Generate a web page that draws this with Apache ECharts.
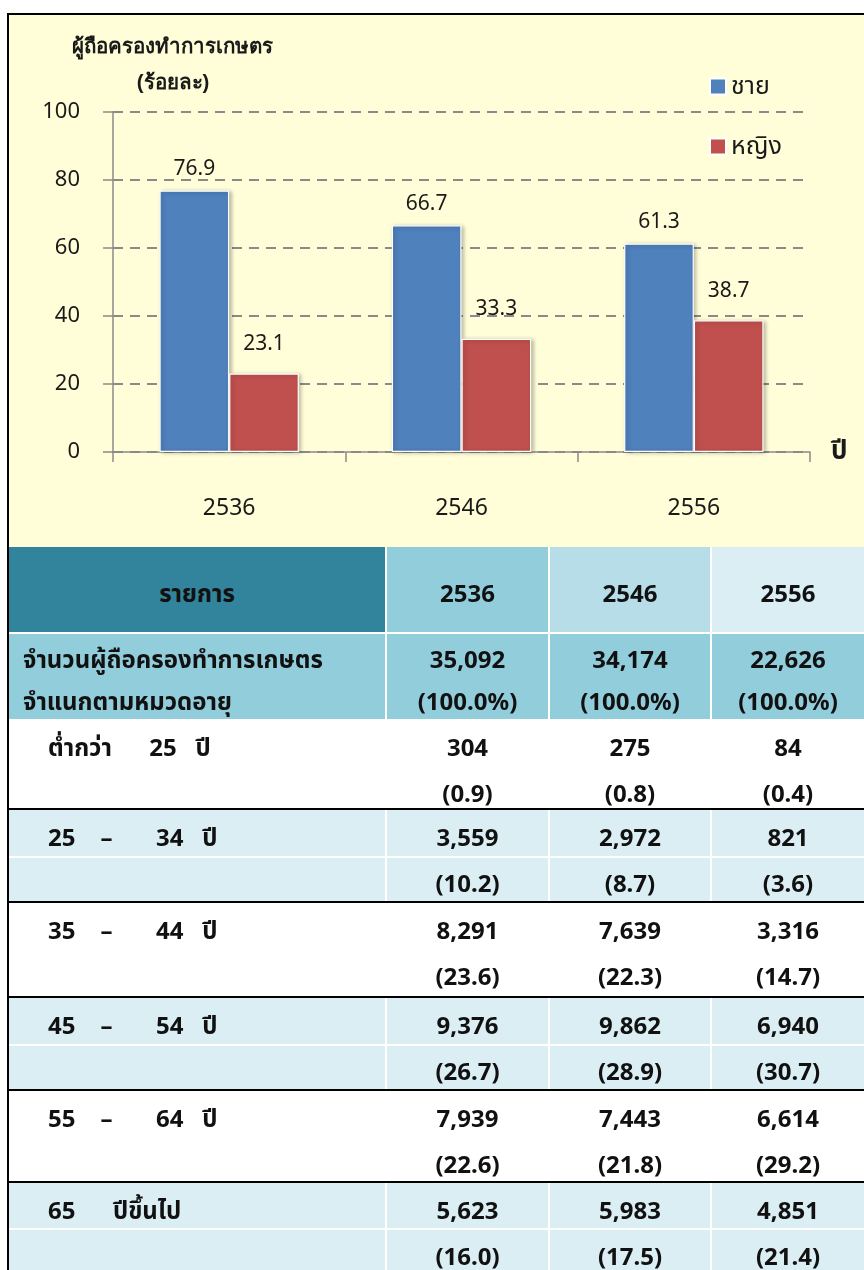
<!DOCTYPE html>
<html>
<head>
<meta charset="utf-8">
<script src="https://cdn.jsdelivr.net/npm/echarts@6/dist/echarts.min.js"></script>
<style>
  body { margin: 0; width: 864px; height: 1270px; position: relative; background: #fff; overflow: hidden;
         font-family: "Noto Sans", "Noto Sans Thai", Tahoma, sans-serif; }
  #frame { position: absolute; left: 7px; top: 13px; width: 857px; height: 1257px; box-sizing: border-box;
           border-left: 2px solid #000; border-top: 2px solid #000; z-index: 5; pointer-events: none; }
  #chartBg { position: absolute; left: 9px; top: 15px; width: 855px; height: 532px; background: #FFFED8; }
  #chart { position: absolute; left: 0; top: 0; width: 864px; height: 547px; }
  #tbl { position: absolute; left: 9px; top: 0; width: 855px; height: 1270px; }
  .c { position: absolute; color: #111; font-size: 24px; font-weight: bold; white-space: pre; }
  .t { position: absolute; left: 0; right: 0; text-align: center; transform: translateY(-50%); line-height: 1; }
  .l { text-align: left; }
</style>
</head>
<body>
<div id="chartBg"></div>
<div id="chart"></div>
<div id="tbl"></div>
<div id="frame"></div>
<script>
// ข้อมูลกราฟ (ร้อยละ)
var years = ['2536', '2546', '2556'];
var seriesNames = ['ชาย', 'หญิง'];
var malePct = [76.9, 66.7, 61.3];
var femalePct = [23.1, 33.3, 38.7];
var titleLines = ['ผู้ถือครองทำการเกษตร', '(ร้อยละ)'];
var xName = 'ปี';

// ข้อมูลตาราง
var headFirst = 'รายการ';
var totalLabel = ['จำนวนผู้ถือครองทำการเกษตร', 'จำแนกตามหมวดอายุ'];
var totals = [35092, 34174, 22626];
var totalPct = [100, 100, 100];
var ageLabels = ['ต่ำกว่า      25   ปี', '25    –       34   ปี', '35    –       44   ปี',
                 '45    –       54   ปี', '55    –       64   ปี', '65      ปีขึ้นไป'];
var ageCounts = [[304, 275, 84], [3559, 2972, 821], [8291, 7639, 3316],
                 [9376, 9862, 6940], [7939, 7443, 6614], [5623, 5983, 4851]];
var agePct = [[0.9, 0.8, 0.4], [10.2, 8.7, 3.6], [23.6, 22.3, 14.7],
              [26.7, 28.9, 30.7], [22.6, 21.8, 29.2], [16.0, 17.5, 21.4]];

var textColor = '#1a1a1a';
var axisGray = '#8a8a8a';

var chart = echarts.init(document.getElementById('chart'));
var barStyle = function (c) {
    return {
        color: c, borderColor: '#fff', borderWidth: 1.2,
        shadowColor: 'rgba(0,0,0,0.28)', shadowBlur: 4, shadowOffsetX: 2, shadowOffsetY: 1
    };
};
chart.setOption({
    backgroundColor: 'transparent',
    animation: false,
    textStyle: {fontFamily: '"Noto Sans", "Noto Sans Thai", Tahoma, sans-serif'},
    graphic: [
        {type: 'text', x: 172, y: 47, style: {text: titleLines[0], fontSize: 20.5, fontWeight: 'bold', fill: textColor, align: 'center', verticalAlign: 'middle'}},
        {type: 'text', x: 173, y: 83, style: {text: titleLines[1], fontSize: 20.5, fontWeight: 'bold', fill: textColor, align: 'center', verticalAlign: 'middle'}}
    ],
    legend: {
        orient: 'vertical', left: 709, top: 74, padding: 0,
        itemWidth: 16, itemHeight: 16, itemGap: 35, itemTextGap: 10,
        icon: 'rect',
        textStyle: {fontSize: 25, color: textColor},
        data: seriesNames
    },
    grid: {left: 113, top: 112, width: 697, height: 340},
    xAxis: {
        type: 'category', data: years,
        name: xName, nameLocation: 'end', nameGap: 21,
        nameTextStyle: {fontSize: 26, fontWeight: 'bold', color: textColor, verticalAlign: 'middle'},
        axisLine: {lineStyle: {color: axisGray, width: 1.5}},
        axisTick: {show: true, length: 10, lineStyle: {color: axisGray, width: 1.5}},
        axisLabel: {fontSize: 23, color: textColor, margin: 45}
    },
    yAxis: {
        type: 'value', min: 0, max: 100, interval: 20,
        axisLine: {show: true, lineStyle: {color: axisGray, width: 1.5}},
        axisTick: {show: true, length: 10, lineStyle: {color: axisGray, width: 1.5}},
        axisLabel: {fontSize: 22, color: textColor, margin: 33},
        splitLine: {lineStyle: {color: axisGray, width: 2, type: [10, 7]}}
    },
    series: [
        {
            name: seriesNames[0], type: 'bar', data: malePct,
            barGap: '0%', barCategoryGap: '40%',
            itemStyle: barStyle('#4F81BD'),
            label: {show: true, position: 'top', distance: 11, fontSize: 21, color: textColor}
        },
        {
            name: seriesNames[1], type: 'bar', data: femalePct,
            itemStyle: barStyle('#C0504D'),
            label: {show: true, position: 'top', distance: 19, fontSize: 21, color: textColor}
        }
    ]
});

// ตาราง
var tbl = document.getElementById('tbl');
var colX = [0, 378, 541, 703];
var colW = [376, 161, 160, 152];
var fmtN = function (v) { return v.toLocaleString('en-US'); };
var fmtP = function (v) { return '(' + v.toFixed(1) + ')'; };

function box(x, y, w, h, bg) {
    var d = document.createElement('div');
    d.className = 'c';
    d.style.left = x + 'px'; d.style.top = y + 'px';
    d.style.width = w + 'px'; d.style.height = h + 'px';
    d.style.background = bg;
    tbl.appendChild(d);
    return d;
}
function txt(parent, s, cy, left) {
    var t = document.createElement('div');
    t.className = 't' + (left != null ? ' l' : '');
    if (left != null) t.style.paddingLeft = left + 'px';
    t.style.top = cy + 'px';
    t.textContent = s;
    parent.appendChild(t);
}

// หัวตาราง
var headBg = ['#31849B', '#92CDDC', '#B7DEE8', '#DAEEF3'];
for (var i = 0; i < 4; i++) {
    var hd = box(colX[i], 547, colW[i], 85, headBg[i]);
    txt(hd, i === 0 ? headFirst : years[i - 1], 46);
}
// แถวรวม
for (var i = 0; i < 4; i++) {
    var rb = box(colX[i], 634, colW[i], 85, '#92CDDC');
    if (i === 0) {
        txt(rb, totalLabel[0], 25, 14);
        txt(rb, totalLabel[1], 67, 14);
    } else {
        txt(rb, fmtN(totals[i - 1]), 25);
        txt(rb, '(' + totalPct[i - 1].toFixed(1) + '%)', 67);
    }
}
// กลุ่มอายุ
var groupTop = [720, 810, 903, 998, 1091, 1183, 1275];
for (var g = 0; g < ageLabels.length; g++) {
    var gTop = groupTop[g], gH = groupTop[g + 1] - gTop;
    var blue = g % 2 === 1;
    var bg = blue ? '#DAEEF3' : '#fff';
    var half = Math.round(gH / 2);
    for (var i = 0; i < 4; i++) {
        var a = box(colX[i], gTop, colW[i], half - 1, bg);
        var b = box(colX[i], gTop + half + 1, colW[i], gH - half - 3, bg);
        if (i === 0) {
            txt(a, ageLabels[g], 27, 39);
        } else {
            txt(a, fmtN(ageCounts[g][i - 1]), 27);
            txt(b, fmtP(agePct[g][i - 1]), 73 - half - 1);
        }
    }
    if (g > 0) {
        box(-2, gTop - 2, 857, 2, '#000');
    }
}
</script>
</body>
</html>
